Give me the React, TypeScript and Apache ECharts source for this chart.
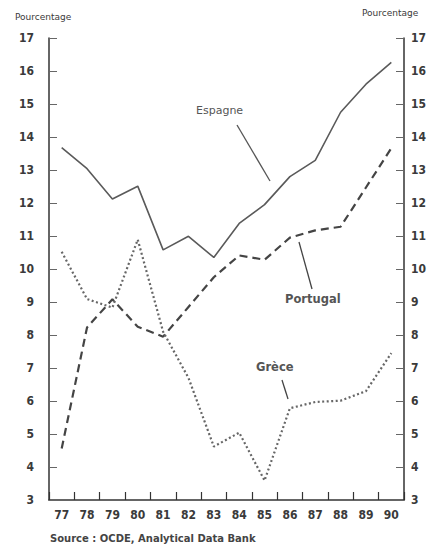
import React, { useEffect, useRef } from "react";
import * as echarts from "echarts";

const years = ["77", "78", "79", "80", "81", "82", "83", "84", "85", "86", "87", "88", "89", "90"];
const espagne = [13.68, 13.04, 12.12, 12.51, 10.58, 10.99, 10.35, 11.38, 11.95, 12.8, 13.29, 14.75, 15.6, 16.26];
const portugal = [4.56, 8.23, 9.08, 8.25, 7.95, 8.85, 9.75, 10.41, 10.28, 10.95, 11.17, 11.28, 12.47, 13.66];
const grece = [10.52, 9.09, 8.83, 10.89, 8.1, 6.7, 4.62, 5.04, 3.59, 5.78, 5.97, 6.01, 6.3, 7.45];

const LINE = "#5a5a5a";
const AXIS = "#333";
const TXT = "#3a3a3a";
const NUMFONT = "'Liberation Sans Narrow', 'DejaVu Sans Condensed', 'DejaVu Sans', sans-serif";
const TXTFONT = "'DejaVu Sans', 'Liberation Sans', sans-serif";

export default function App() {
  const ref = useRef<HTMLDivElement>(null);
  useEffect(() => {
    if (!ref.current) return;
    const chart = echarts.init(ref.current, null, { renderer: "svg" });
    const yAxisBase = {
      type: "value",
      min: 3,
      max: 17,
      interval: 1,
      splitLine: { show: false },
      axisLine: { show: true, lineStyle: { color: AXIS, width: 1.5 } },
      axisTick: { show: true, inside: true, length: 8, lineStyle: { color: "#666", width: 1 } },
      axisLabel: { color: TXT, fontFamily: NUMFONT, fontWeight: "bold", fontSize: 12 },
    };
    chart.setOption({
      animation: false,
      grid: { left: 49, right: 40, top: 38, bottom: 51 },
      xAxis: {
        type: "category",
        data: years,
        boundaryGap: true,
        axisLine: { show: true, lineStyle: { color: AXIS, width: 1.5 } },
        axisTick: { show: true, inside: true, length: 8, lineStyle: { color: AXIS, width: 1.2 } },
        axisLabel: { color: TXT, fontFamily: NUMFONT, fontWeight: "bold", fontSize: 12, margin: 9 },
      },
      yAxis: [
        { ...yAxisBase, position: "left", axisLabel: { ...yAxisBase.axisLabel, margin: 15 } },
        { ...yAxisBase, position: "right", axisLabel: { ...yAxisBase.axisLabel, margin: 7 } },
      ],
      series: [
        {
          name: "Espagne",
          type: "line",
          data: espagne,
          symbol: "none",
          lineStyle: { color: LINE, width: 1.6 },
        },
        {
          name: "Portugal",
          type: "line",
          data: portugal,
          symbol: "none",
          lineStyle: { color: "#444", width: 2.2, type: [8, 5] },
        },
        {
          name: "Grèce",
          type: "line",
          data: grece,
          symbol: "none",
          lineStyle: { color: "#666", width: 2.2, type: [2, 2.5] },
        },
      ],
      graphic: [
        { type: "text", left: 15, top: 12, style: { text: "Pourcentage", fontSize: 9, fill: TXT, fontFamily: TXTFONT } },
        { type: "text", left: 362, top: 8, style: { text: "Pourcentage", fontSize: 9, fill: TXT, fontFamily: TXTFONT } },
        { type: "text", left: 196, top: 105, style: { text: "Espagne", fontSize: 11, fill: "#555", fontFamily: TXTFONT } },
        { type: "line", shape: { x1: 237, y1: 125, x2: 270, y2: 181 }, style: { stroke: "#555", lineWidth: 1.3 } },
        { type: "text", left: 285, top: 293, style: { text: "Portugal", fontSize: 11.5, fontWeight: "bold", fill: "#555", fontFamily: TXTFONT } },
        { type: "line", shape: { x1: 299, y1: 242, x2: 312, y2: 289 }, style: { stroke: "#444", lineWidth: 1.3 } },
        { type: "text", left: 256, top: 361, style: { text: "Grèce", fontSize: 11.5, fontWeight: "bold", fill: "#555", fontFamily: TXTFONT } },
        { type: "line", shape: { x1: 282, y1: 380, x2: 288, y2: 399 }, style: { stroke: "#444", lineWidth: 1.3 } },
        { type: "text", left: 50, top: 533, style: { text: "Source : OCDE, Analytical Data Bank", fontSize: 10, fontWeight: "bold", fill: "#444", fontFamily: TXTFONT } },
      ],
    });
    return () => chart.dispose();
  }, []);
  return <div ref={ref} style={{ width: 444, height: 551, position: "absolute", left: 0, top: 0, background: "#fff" }} />;
}
